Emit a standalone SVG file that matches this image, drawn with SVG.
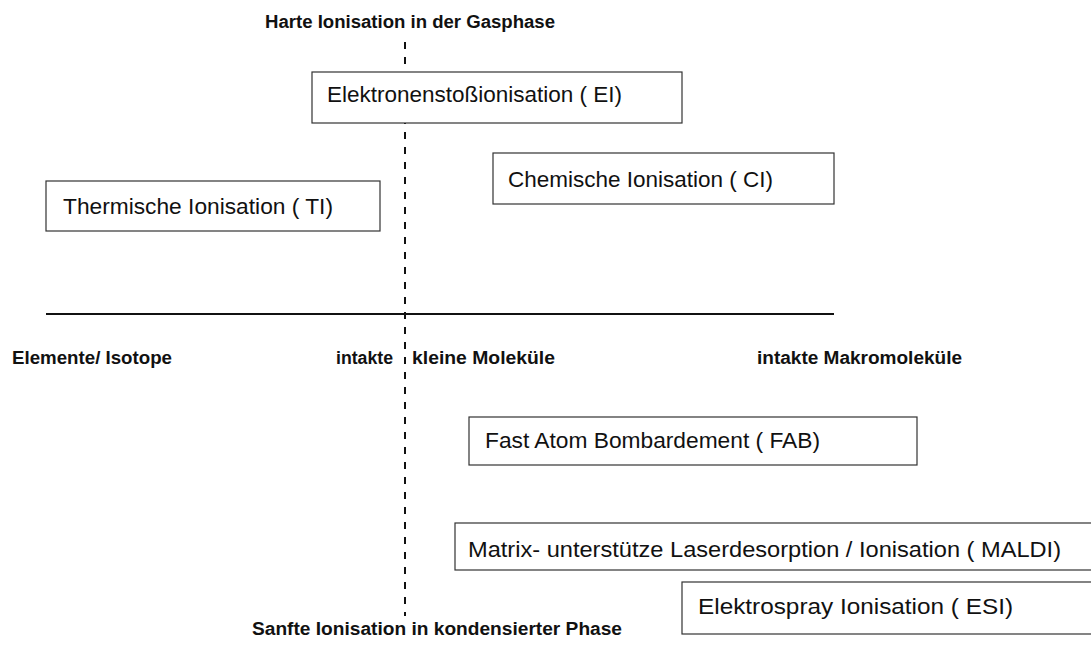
<svg xmlns="http://www.w3.org/2000/svg" width="1091" height="648" viewBox="0 0 1091 648">
<style>
.box{fill:#fff;stroke:#333;stroke-width:1.2}
.t{font-family:"Liberation Sans",Arial,sans-serif;font-size:22px;fill:#111}
.b{font-family:"Liberation Sans",Arial,sans-serif;font-size:18px;font-weight:bold;fill:#111}
</style>
<rect width="1091" height="648" fill="#fff"/>
<g id="connectors">
<line x1="405" y1="42" x2="405" y2="616" stroke="#111" stroke-width="2" stroke-dasharray="7 8"/>
<line x1="46" y1="314" x2="834" y2="314" stroke="#111" stroke-width="2"/>
</g>
<g id="labels">
<text class="b" x="265" y="28" textLength="290" lengthAdjust="spacingAndGlyphs">Harte Ionisation in der Gasphase</text>
<text class="b" x="12" y="364" textLength="160" lengthAdjust="spacingAndGlyphs">Elemente/ Isotope</text>
<text class="b" x="336" y="364" textLength="57" lengthAdjust="spacingAndGlyphs">intakte</text>
<text class="b" x="412" y="364" textLength="143" lengthAdjust="spacingAndGlyphs">kleine Moleküle</text>
<text class="b" x="757" y="364" textLength="205" lengthAdjust="spacingAndGlyphs">intakte Makromoleküle</text>
<text class="b" x="252" y="635" textLength="370" lengthAdjust="spacingAndGlyphs">Sanfte Ionisation in kondensierter Phase</text>
</g>
<g id="node-ei">
<rect class="box" x="312" y="72" width="370" height="51"/>
<text class="t" x="327" y="102" textLength="295" lengthAdjust="spacingAndGlyphs">Elektronenstoßionisation ( EI)</text>
</g>
<g id="node-ti">
<rect class="box" x="46" y="181" width="334" height="50"/>
<text class="t" x="63" y="214" textLength="270" lengthAdjust="spacingAndGlyphs">Thermische Ionisation ( TI)</text>
</g>
<g id="node-ci">
<rect class="box" x="493" y="153" width="341" height="51"/>
<text class="t" x="508" y="187" textLength="265" lengthAdjust="spacingAndGlyphs">Chemische Ionisation ( CI)</text>
</g>
<g id="node-fab">
<rect class="box" x="469" y="417" width="448" height="48"/>
<text class="t" x="485" y="448" textLength="335" lengthAdjust="spacingAndGlyphs">Fast Atom Bombardement ( FAB)</text>
</g>
<g id="node-maldi">
<rect class="box" x="455" y="523" width="660" height="47"/>
<text class="t" x="468" y="557" textLength="593" lengthAdjust="spacingAndGlyphs">Matrix- unterstütze Laserdesorption / Ionisation ( MALDI)</text>
</g>
<g id="node-esi">
<rect class="box" x="682" y="582" width="430" height="52"/>
<text class="t" x="698" y="614" textLength="315" lengthAdjust="spacingAndGlyphs">Elektrospray Ionisation ( ESI)</text>
</g>
</svg>
